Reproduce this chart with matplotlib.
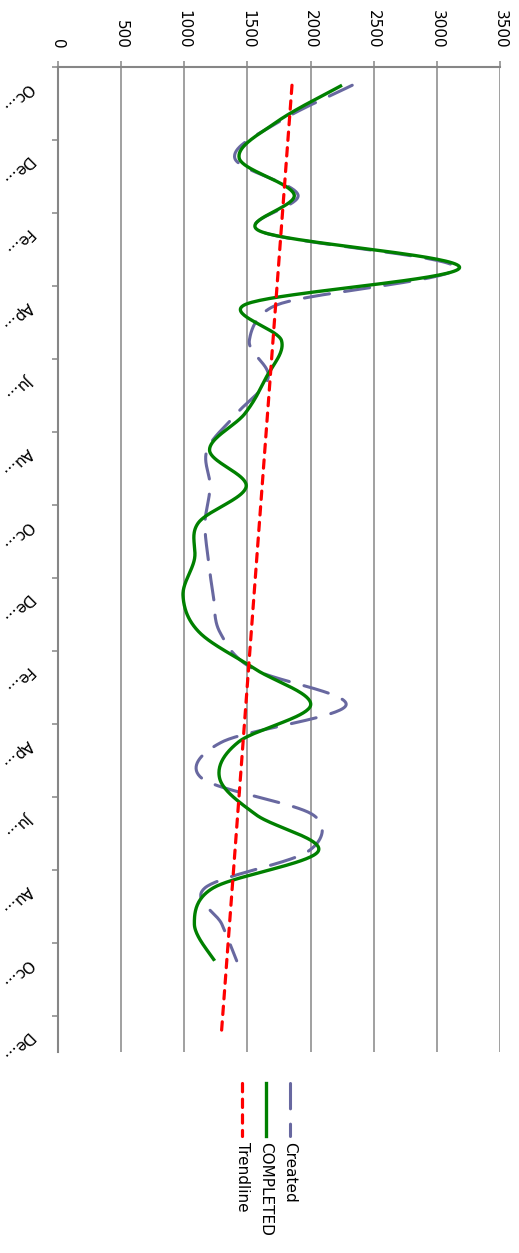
import numpy as np
import matplotlib
matplotlib.use("Agg")
import matplotlib.pyplot as plt
from matplotlib.lines import Line2D
from matplotlib.transforms import blended_transform_factory

# monthly series, Oct (year 1) .. Oct (year 3); axis runs two months further
months = ["Oc...", "No...", "De...", "Ja...", "Fe...", "Ma...", "Ap...", "Ma...",
          "Ju...", "Ju...", "Au...", "Se...", "Oc...", "No...", "De...", "Ja...",
          "Fe...", "Ma...", "Ap...", "Ma...", "Ju...", "Ju...", "Au...", "Se...",
          "Oc...", "No...", "De..."]
created = [2330, 1750, 1400, 1900, 1600, 3150, 1750, 1515, 1665, 1415, 1180,
           1204, 1164, 1190, 1230, 1283, 1545, 2280, 1300, 1140, 2020, 1980,
           1164, 1298, 1415]
completed = [2249, 1734, 1435, 1870, 1600, 3180, 1490, 1770, 1650, 1480, 1200,
             1490, 1110, 1080, 990, 1120, 1560, 2000, 1430, 1280, 1570, 2060,
             1230, 1080, 1240]
value_ticks = [0, 500, 1000, 1500, 2000, 2500, 3000, 3500]
legend_labels = ["Created", "COMPLETED", "Trendline"]

GRID = "#868686"
C_CREATED = "#6868A0"
C_COMPLETED = "#008000"
C_TREND = "#FF0000"

W, H = 519, 1253
fig = plt.figure(figsize=(W / 100, H / 100), dpi=100)
ax = fig.add_axes([58 / W, 1 - 1052 / H, 442 / W, 985 / H])
ax.set_xlim(0, 3500)
ax.set_ylim(len(months) - 0.5, -0.5)


def excel_smooth(xs, ys, n=40):
    """Excel-style smoothed line (bezier through points), done in pixel space."""
    pts = ax.transData.transform(np.column_stack([xs, ys]))
    out = []
    for k in range(len(pts) - 1):
        p1, p2 = pts[k], pts[k + 1]
        p0 = pts[k - 1] if k > 0 else p1
        p3 = pts[k + 2] if k + 2 < len(pts) else p2
        d12 = np.hypot(*(p2 - p1))
        d02 = np.hypot(*(p2 - p0))
        d13 = np.hypot(*(p3 - p1))
        f0 = 1 / 6 if d02 / 6 < d12 / 2 else (d12 / 2) / max(d02, 1e-9)
        f3 = 1 / 6 if d13 / 6 < d12 / 2 else (d12 / 2) / max(d13, 1e-9)
        c1 = p1 + (p2 - p0) * f0
        c2 = p2 - (p3 - p1) * f3
        t = np.linspace(0, 1, n)[:, None]
        seg = ((1 - t) ** 3 * p1 + 3 * (1 - t) ** 2 * t * c1
               + 3 * (1 - t) * t ** 2 * c2 + t ** 3 * p2)
        out.append(seg if k == 0 else seg[1:])
    back = ax.transData.inverted().transform(np.vstack(out))
    return back[:, 0], back[:, 1]


idx = np.arange(len(created))
cx, cy = excel_smooth(created, idx)
ax.plot(cx, cy, color=C_CREATED, lw=2.2, dashes=(8.3, 5.0),
        dash_capstyle="round", zorder=3)
gx, gy = excel_smooth(completed, idx)
ax.plot(gx, gy, color=C_COMPLETED, lw=2.4, solid_capstyle="butt", zorder=4)

# linear trendline fitted to Created, forecast two periods forward
slope, icpt = np.polyfit(idx, created, 1)
tidx = np.arange(len(months))
ax.plot(slope * tidx + icpt, tidx, color=C_TREND, lw=2.3, dashes=(2.6, 2.3),
        dash_capstyle="round", zorder=5)

# value axis (top)
ax.set_xticks(value_ticks)
ax.xaxis.tick_top()
ax.tick_params(axis="x", top=True, bottom=False, labeltop=True,
               labelbottom=False, labelrotation=-90, length=4.3, width=1.1,
               color=GRID, pad=9, labelsize=11)
ax.grid(axis="x", color=GRID, lw=1.1)
ax.set_axisbelow(True)

# category axis (left)
ax.set_yticks(np.arange(-0.5, len(months) - 1, 2))
ax.tick_params(axis="y", left=True, labelleft=False, length=4.3, width=1.1,
               color=GRID)
trans = blended_transform_factory(ax.transAxes, ax.transData)
for i in range(0, len(months), 2):
    ax.text(-28 / 442, i, months[i], transform=trans, rotation=225,
            rotation_mode="anchor", ha="left", va="center", fontsize=11)

for side in ("right", "bottom"):
    ax.spines[side].set_visible(False)
for side in ("top", "left"):
    ax.spines[side].set_color(GRID)
    ax.spines[side].set_linewidth(1.5)

# legend, drawn rotated like the rest of the chart
styles = [dict(color=C_CREATED, lw=2.2, dashes=(8.3, 5.0), dash_capstyle="round"),
          dict(color=C_COMPLETED, lw=2.4),
          dict(color=C_TREND, lw=2.3, dashes=(2.6, 2.3), dash_capstyle="round")]
for xpix, label, st in zip([290, 266, 242], legend_labels, styles):
    fig.add_artist(Line2D([xpix / W] * 2, [1 - 1083 / H, 1 - 1136 / H],
                          transform=fig.transFigure, **st))
    fig.text(xpix / W, 1 - 1142 / H, label, rotation=-90, ha="center",
             va="top", fontsize=11)

fig.savefig("out.png", dpi=100)
